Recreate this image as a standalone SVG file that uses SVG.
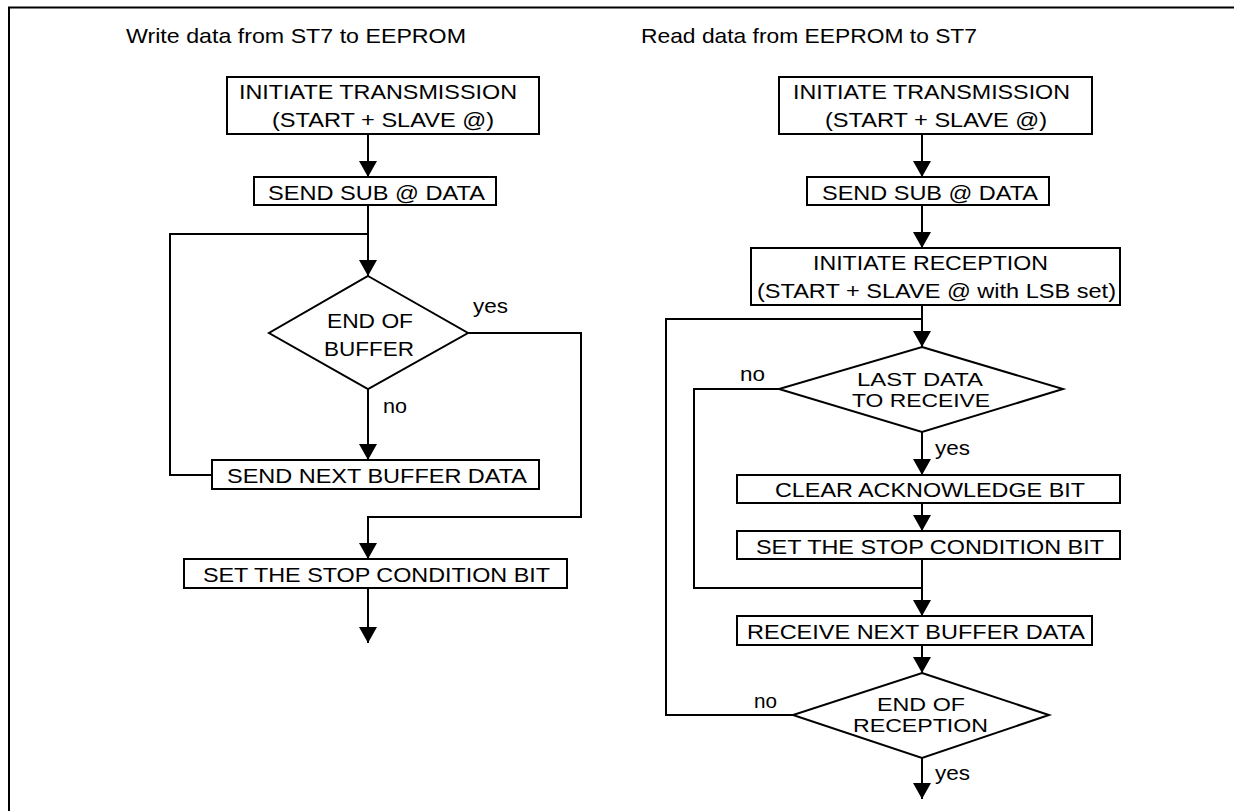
<svg xmlns="http://www.w3.org/2000/svg" width="1234" height="811" viewBox="0 0 1234 811">
<style>
text{font-family:"Liberation Sans",Arial,Helvetica,sans-serif;font-size:21px;fill:#000}
.t{font-size:21px}
.s{font-size:19px}
.n{fill:#fff;stroke:#000;stroke-width:2}
.c{fill:none;stroke:#000;stroke-width:2}
.a{marker-end:url(#ah)}
</style>
<defs>
<marker id="ah" viewBox="0 0 16 18" refX="16" refY="9" markerWidth="16" markerHeight="18" markerUnits="userSpaceOnUse" orient="auto">
<path d="M0,0 L16,9 L0,18 z" fill="#000"/>
</marker>
</defs>
<rect width="1234" height="811" fill="#fff"/>
<g id="frame">
<path class="c" d="M9,811 V7.5 H1234"/>
</g>
<g id="titles">
<text class="t" x="126" y="43" textLength="340" lengthAdjust="spacingAndGlyphs">Write data from ST7 to EEPROM</text>
<text class="t" x="641" y="43" textLength="336" lengthAdjust="spacingAndGlyphs">Read data from EEPROM to ST7</text>
</g>
<g id="connectors">
<path class="c a" d="M368,134 V177"/>
<path class="c a" d="M368,205 V276"/>
<path class="c a" d="M368,389 V460"/>
<path class="c" d="M212,475 H170 V234 H368"/>
<path class="c a" d="M468,333 H581 V517 H368 V559"/>
<path class="c a" d="M368,588 V643"/>
<path class="c a" d="M922,134 V177"/>
<path class="c a" d="M922,205 V248"/>
<path class="c a" d="M922,305 V347"/>
<path class="c a" d="M922,432 V475"/>
<path class="c a" d="M922,503 V531"/>
<path class="c a" d="M922,559 V616"/>
<path class="c" d="M779,389 H694 V588 H922"/>
<path class="c a" d="M922,645 V673"/>
<path class="c" d="M793,715 H666 V319 H922"/>
<path class="c a" d="M922,758 V799"/>
</g>
<g id="labels">
<text x="473" y="313" textLength="35" lengthAdjust="spacingAndGlyphs">yes</text>
<text x="383" y="413" textLength="24" lengthAdjust="spacingAndGlyphs">no</text>
<text x="740" y="381" textLength="25" lengthAdjust="spacingAndGlyphs">no</text>
<text x="935" y="455" textLength="35" lengthAdjust="spacingAndGlyphs">yes</text>
<text x="754" y="708" textLength="23" lengthAdjust="spacingAndGlyphs">no</text>
<text x="935" y="780" textLength="35" lengthAdjust="spacingAndGlyphs">yes</text>
</g>
<g id="w1">
<rect class="n" x="227" y="77" width="312" height="57"/>
<text x="239" y="99" textLength="278" lengthAdjust="spacingAndGlyphs">INITIATE TRANSMISSION</text>
<text x="272" y="127" textLength="222" lengthAdjust="spacingAndGlyphs">(START + SLAVE @)</text>
</g>
<g id="w2">
<rect class="n" x="254" y="177" width="242" height="28"/>
<text x="268" y="200" textLength="217" lengthAdjust="spacingAndGlyphs">SEND SUB @ DATA</text>
</g>
<g id="w3">
<polygon class="n" points="368,276 468,333 368,389 269,333"/>
<text x="327" y="328" textLength="86" lengthAdjust="spacingAndGlyphs">END OF</text>
<text x="324" y="356" textLength="90" lengthAdjust="spacingAndGlyphs">BUFFER</text>
</g>
<g id="w4">
<rect class="n" x="212" y="460" width="327" height="29"/>
<text x="227" y="483" textLength="300" lengthAdjust="spacingAndGlyphs">SEND NEXT BUFFER DATA</text>
</g>
<g id="w5">
<rect class="n" x="184" y="559" width="383" height="29"/>
<text x="203" y="582" textLength="347" lengthAdjust="spacingAndGlyphs">SET THE STOP CONDITION BIT</text>
</g>
<g id="r1">
<rect class="n" x="779" y="77" width="313" height="57"/>
<text x="793" y="99" textLength="277" lengthAdjust="spacingAndGlyphs">INITIATE TRANSMISSION</text>
<text x="825" y="127" textLength="222" lengthAdjust="spacingAndGlyphs">(START + SLAVE @)</text>
</g>
<g id="r2">
<rect class="n" x="807" y="177" width="242" height="28"/>
<text x="822" y="200" textLength="216" lengthAdjust="spacingAndGlyphs">SEND SUB @ DATA</text>
</g>
<g id="r3">
<rect class="n" x="751" y="248" width="369" height="57"/>
<text x="813" y="270" textLength="235" lengthAdjust="spacingAndGlyphs">INITIATE RECEPTION</text>
<text x="757" y="298" textLength="359" lengthAdjust="spacingAndGlyphs">(START + SLAVE @ with LSB set)</text>
</g>
<g id="r4">
<polygon class="n" points="922,347 1063,389 922,432 779,389"/>
<text class="s" x="857" y="386" textLength="126" lengthAdjust="spacingAndGlyphs">LAST DATA</text>
<text class="s" x="852" y="407" textLength="138" lengthAdjust="spacingAndGlyphs">TO RECEIVE</text>
</g>
<g id="r5">
<rect class="n" x="737" y="475" width="383" height="28"/>
<text x="775" y="497" textLength="310" lengthAdjust="spacingAndGlyphs">CLEAR ACKNOWLEDGE BIT</text>
</g>
<g id="r6">
<rect class="n" x="737" y="531" width="383" height="28"/>
<text x="756" y="554" textLength="348" lengthAdjust="spacingAndGlyphs">SET THE STOP CONDITION BIT</text>
</g>
<g id="r7">
<rect class="n" x="737" y="616" width="355" height="29"/>
<text x="747" y="639" textLength="338" lengthAdjust="spacingAndGlyphs">RECEIVE NEXT BUFFER DATA</text>
</g>
<g id="r8">
<polygon class="n" points="922,673 1049,715 922,758 793,715"/>
<text class="s" x="877" y="711" textLength="88" lengthAdjust="spacingAndGlyphs">END OF</text>
<text class="s" x="853" y="732" textLength="135" lengthAdjust="spacingAndGlyphs">RECEPTION</text>
</g>
</svg>
